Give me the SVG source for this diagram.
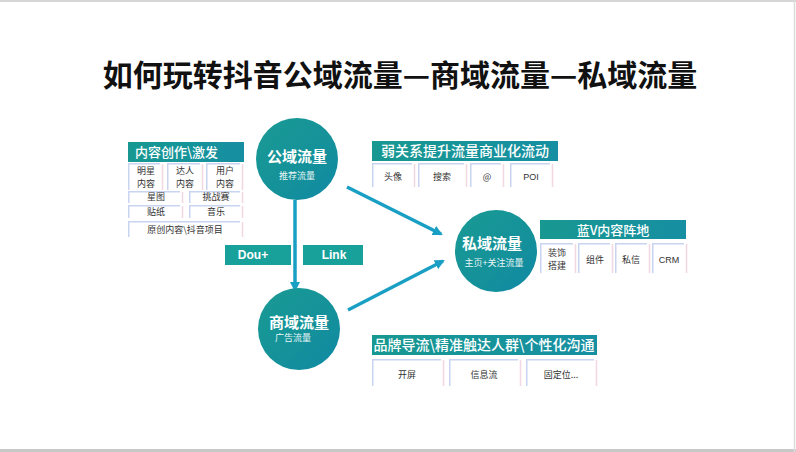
<svg xmlns="http://www.w3.org/2000/svg" width="796" height="452" viewBox="0 0 796 452">
<defs>
<linearGradient id="cg" x1="0" y1="0" x2="1" y2="1">
<stop offset="0" stop-color="#1a9a94"/>
<stop offset="0.6" stop-color="#14919a"/>
<stop offset="1" stop-color="#1088a6"/>
</linearGradient>
<linearGradient id="hg" x1="0" y1="0" x2="1" y2="0">
<stop offset="0" stop-color="#189891"/>
<stop offset="1" stop-color="#168fa2"/>
</linearGradient>
<marker id="ah" markerWidth="10" markerHeight="10" refX="8" refY="5" orient="auto" markerUnits="userSpaceOnUse" viewBox="0 0 10 10">
<path d="M0,0 L10,5 L0,10 z" fill="#1a9fc4"/>
</marker>
<style>
text{font-family:"Noto Sans CJK SC","Liberation Sans",sans-serif;}
.title{font-size:30px;font-weight:bold;fill:#111;}
.cm{font-size:15px;font-weight:bold;fill:#fff;}
.cs{font-size:9px;fill:#e8f6f6;}
.hd{fill:url(#hg);}
.ht{font-size:13px;fill:#fff;font-weight:500;}
.lb{fill:#18a19a;}
.lt{font-size:12px;fill:#fff;font-weight:bold;font-family:"Liberation Sans",sans-serif;}
.cell{fill:#fff;}
.cl{stroke:#c9d4f0;stroke-width:1.5;fill:none;}
.cr{stroke:#f3d7e3;stroke-width:1.5;fill:none;}
.ct{font-size:9px;fill:#333;text-anchor:middle;}
.conn{stroke:#1a9fc4;stroke-width:3.5;fill:none;marker-end:url(#ah);}
</style>
</defs>
<rect x="0" y="0" width="796" height="452" fill="#fff"/>
<line x1="0" y1="1" x2="796" y2="1" stroke="#d6d6d6" stroke-width="2"/>
<line x1="0" y1="450.5" x2="796" y2="450.5" stroke="#c8c8c8" stroke-width="3"/>
<line x1="794.5" y1="0" x2="794.5" y2="452" stroke="#dcdcdc" stroke-width="1.5"/>

<text class="title" x="400" y="86" text-anchor="middle">如何玩转抖音公域流量—商域流量—私域流量</text>

<g id="connectors">
<line class="conn" x1="295" y1="200" x2="295" y2="290"/>
<line class="conn" x1="347" y1="187" x2="441" y2="234"/>
<line class="conn" x1="348" y1="310" x2="443" y2="261"/>
</g>

<g id="label-dou">
<rect class="lb" x="225" y="245" width="66" height="20"/>
<text class="lt" x="253" y="259" text-anchor="middle">Dou+</text>
</g>
<g id="label-link">
<rect class="lb" x="303" y="245" width="60" height="20"/>
<text class="lt" x="334" y="259" text-anchor="middle">Link</text>
</g>

<g id="node-public">
<circle cx="297" cy="159" r="41" fill="url(#cg)"/>
<text class="cm" x="297" y="162" text-anchor="middle">公域流量</text>
<text class="cs" x="297" y="179" text-anchor="middle">推荐流量</text>
</g>
<g id="node-commerce">
<circle cx="299" cy="329" r="41" fill="url(#cg)"/>
<text class="cm" x="299" y="328" text-anchor="middle">商域流量</text>
<text class="cs" x="293" y="341" text-anchor="middle">广告流量</text>
</g>
<g id="node-private">
<circle cx="496" cy="251" r="41" fill="url(#cg)"/>
<text class="cm" x="492" y="249" text-anchor="middle">私域流量</text>
<text class="cs" x="494" y="266" text-anchor="middle">主页+关注流量</text>
</g>

<g id="panel-content">
<rect class="hd" x="128" y="142" width="116" height="20"/>
<text class="ht" x="135" y="157">内容创作\激发</text>
<g>
<rect class="cell" x="128" y="163" width="35" height="27"/>
<path class="cl" d="M128.75,190 V163.75 H160"/><path class="cr" d="M162.5,164 V190"/>
<text class="ct" x="146" y="174">明星</text><text class="ct" x="146" y="187">内容</text>
<rect class="cell" x="167" y="163" width="36" height="27"/>
<path class="cl" d="M167.75,190 V163.75 H200"/><path class="cr" d="M202.5,164 V190"/>
<text class="ct" x="185" y="174">达人</text><text class="ct" x="185" y="187">内容</text>
<rect class="cell" x="206" y="163" width="37" height="27"/>
<path class="cl" d="M206.75,190 V163.75 H240"/><path class="cr" d="M242.5,164 V190"/>
<text class="ct" x="225" y="174">用户</text><text class="ct" x="225" y="187">内容</text>
<rect class="cell" x="128" y="191" width="55" height="12"/>
<path class="cl" d="M128.75,203 V191.75 H180"/><path class="cr" d="M182.5,192 V203"/>
<text class="ct" x="156" y="200">星图</text>
<rect class="cell" x="189" y="191" width="54" height="12"/>
<path class="cl" d="M189.75,203 V191.75 H240"/><path class="cr" d="M242.5,192 V203"/>
<text class="ct" x="216" y="200">挑战赛</text>
<rect class="cell" x="128" y="205" width="55" height="13"/>
<path class="cl" d="M128.75,218 V205.75 H180"/><path class="cr" d="M182.5,206 V218"/>
<text class="ct" x="156" y="215">贴纸</text>
<rect class="cell" x="189" y="205" width="54" height="13"/>
<path class="cl" d="M189.75,218 V205.75 H240"/><path class="cr" d="M242.5,206 V218"/>
<text class="ct" x="216" y="215">音乐</text>
<rect class="cell" x="128" y="221" width="115" height="16"/>
<path class="cl" d="M128.75,237 V221.75 H240"/><path class="cr" d="M242.5,222 V237"/>
<text class="ct" x="185" y="233">原创内容\抖音项目</text>
</g>
</g>

<g id="panel-weak">
<rect class="hd" x="372" y="141" width="186" height="20"/>
<text class="ht" x="465" y="156" text-anchor="middle" style="font-size:14px">弱关系提升流量商业化流动</text>
<rect class="cell" x="372" y="163" width="43" height="24"/>
<path class="cl" d="M372.75,187 V163.75 H412"/><path class="cr" d="M414.5,164 V187"/>
<text class="ct" x="393" y="180">头像</text>
<rect class="cell" x="418" y="163" width="49" height="24"/>
<path class="cl" d="M418.75,187 V163.75 H464"/><path class="cr" d="M466.5,164 V187"/>
<text class="ct" x="442" y="180">搜索</text>
<rect class="cell" x="470" y="163" width="34" height="24"/>
<path class="cl" d="M470.75,187 V163.75 H501"/><path class="cr" d="M503.5,164 V187"/>
<text class="ct" x="487" y="180">@</text>
<rect class="cell" x="510" y="163" width="43" height="24"/>
<path class="cl" d="M510.75,187 V163.75 H550"/><path class="cr" d="M552.5,164 V187"/>
<text class="ct" x="531" y="180" style="font-family:'Liberation Sans',sans-serif">POI</text>
</g>

<g id="panel-bluev">
<rect class="hd" x="540" y="220" width="146" height="19"/>
<text class="ht" x="613" y="235" text-anchor="middle">蓝V内容阵地</text>
<rect class="cell" x="540" y="243" width="36" height="30"/>
<path class="cl" d="M540.75,273 V243.75 H573"/><path class="cr" d="M575.5,244 V273"/>
<text class="ct" x="557" y="256">装饰</text><text class="ct" x="557" y="269">搭建</text>
<rect class="cell" x="578" y="243" width="35" height="30"/>
<path class="cl" d="M578.75,273 V243.75 H610"/><path class="cr" d="M612.5,244 V273"/>
<text class="ct" x="595" y="263">组件</text>
<rect class="cell" x="615" y="243" width="35" height="30"/>
<path class="cl" d="M615.75,273 V243.75 H647"/><path class="cr" d="M649.5,244 V273"/>
<text class="ct" x="631" y="263">私信</text>
<rect class="cell" x="652" y="243" width="35" height="30"/>
<path class="cl" d="M652.75,273 V243.75 H684"/><path class="cr" d="M686.5,244 V273"/>
<text class="ct" x="669" y="263" style="font-family:'Liberation Sans',sans-serif">CRM</text>
</g>

<g id="panel-brand">
<rect class="hd" x="372" y="335" width="225" height="20"/>
<text class="ht" x="484" y="350" text-anchor="middle" style="font-size:14px">品牌导流\精准触达人群\个性化沟通</text>
<rect class="cell" x="372" y="359" width="72" height="27"/>
<path class="cl" d="M372.75,386 V359.75 H441"/><path class="cr" d="M443.5,360 V386"/>
<text class="ct" x="407" y="378">开屏</text>
<rect class="cell" x="449" y="359" width="72" height="27"/>
<path class="cl" d="M449.75,386 V359.75 H518"/><path class="cr" d="M520.5,360 V386"/>
<text class="ct" x="484" y="378">信息流</text>
<rect class="cell" x="526" y="359" width="71" height="27"/>
<path class="cl" d="M526.75,386 V359.75 H594"/><path class="cr" d="M596.5,360 V386"/>
<text class="ct" x="561" y="378">固定位...</text>
</g>
</svg>
